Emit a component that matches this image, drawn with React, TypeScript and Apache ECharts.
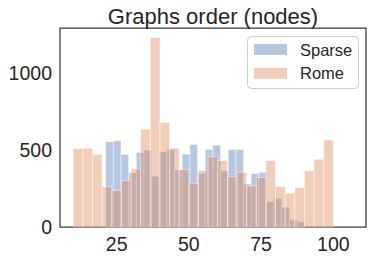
import React, { useEffect, useRef } from "react";
import * as echarts from "echarts";

// Histogram bins
const romeStart = 10;
const romeBinWidth = 90 / 27;
const romeCounts = [
  511, 511, 472, 262, 238, 301, 377, 636, 1232, 680, 512, 375, 284, 368,
  457, 432, 327, 355, 266, 322, 431, 262, 219, 256, 366, 440, 565,
];

const sparseStart = 21.2;
const sparseBinWidth = 2.65;
const sparseCounts = [
  554, 561, 472, 353, 485, 500, 330, 489, 505, 370, 474, 537, 348, 504, 532,
  365, 504, 504, 280, 348, 355, 165, 187, 129, 48, 33,
];

const xTicks = [25, 50, 75, 100];
const yTicks = [0, 500, 1000];
const seriesNames = ["Sparse", "Rome"];
const titleText = "Graphs order (nodes)";

const SPARSE_COLOR = "rgba(76,114,176,0.4)";
const ROME_COLOR = "rgba(221,132,82,0.4)";
const TEXT_COLOR = "#262626";
const FONT = "Liberation Sans, Arial, sans-serif";
const seriesColors = [SPARSE_COLOR, ROME_COLOR];

function toBins(start: number, width: number, counts: number[]) {
  return counts.map((c, i) => [start + i * width, start + (i + 1) * width, c]);
}

function histSeries(name: string, color: string, data: number[][]) {
  return {
    name,
    type: "custom",
    itemStyle: { color },
    encode: { x: [0, 1], y: 2 },
    data,
    renderItem: (_params: any, api: any) => {
      const p0 = api.coord([api.value(0), api.value(2)]);
      const p1 = api.coord([api.value(1), 0]);
      return {
        type: "rect",
        shape: { x: p0[0], y: p0[1], width: p1[0] - p0[0], height: p1[1] - p0[1] },
        style: { fill: color, stroke: "rgba(255,255,255,0.45)", lineWidth: 1 },
      };
    },
  };
}

function legendGraphics() {
  const items: any[] = [
    {
      type: "rect",
      shape: { x: 247.5, y: 36.5, width: 111, height: 52, r: 4 },
      style: { fill: "rgba(255,255,255,0.8)", stroke: "#cccccc", lineWidth: 1 },
    },
  ];
  seriesNames.forEach((name, i) => {
    const cy = 49.5 + i * 23.8;
    items.push({
      type: "rect",
      shape: { x: 254, y: cy - 5.5, width: 33, height: 11 },
      style: { fill: seriesColors[i] },
    });
    items.push({
      type: "text",
      x: 300,
      y: cy,
      style: {
        text: name,
        font: `16.5px ${FONT}`,
        fill: TEXT_COLOR,
        textAlign: "left",
        textVerticalAlign: "middle",
      },
    });
  });
  return { type: "group", children: items };
}

export default function App() {
  const ref = useRef<HTMLDivElement>(null);
  useEffect(() => {
    document.body.style.margin = "0";
    if (!ref.current) return;
    const chart = echarts.init(ref.current, undefined, { renderer: "svg" });
    chart.setOption({
      animation: false,
      backgroundColor: "#ffffff",
      textStyle: { fontFamily: FONT },
      graphic: [
        {
          type: "text",
          x: 213,
          y: 16,
          style: {
            text: titleText,
            font: `22px ${FONT}`,
            fill: TEXT_COLOR,
            textAlign: "center",
            textVerticalAlign: "middle",
          },
        },
        legendGraphics(),
      ],
      grid: {
        left: 60,
        right: 8,
        top: 28,
        bottom: 34,
        show: true,
        borderColor: "#3a3a3a",
        borderWidth: 1.25,
        backgroundColor: "transparent",
      },
      xAxis: {
        type: "value",
        min: 5.4,
        max: 111.3,
        axisLine: { show: false },
        axisTick: { show: false },
        splitLine: { show: false },
        axisLabel: {
          customValues: xTicks,
          fontSize: 19.5,
          color: TEXT_COLOR,
          fontFamily: FONT,
          margin: 7,
          formatter: (v: number) => String(v),
        },
      },
      yAxis: {
        type: "value",
        min: 0,
        max: 1294,
        axisLine: { show: false },
        axisTick: { show: false },
        splitLine: { show: false },
        axisLabel: {
          customValues: yTicks,
          fontSize: 19.5,
          color: TEXT_COLOR,
          fontFamily: FONT,
          margin: 8,
          formatter: (v: number) => String(v),
        },
      },
      series: [
        histSeries(seriesNames[0], SPARSE_COLOR, toBins(sparseStart, sparseBinWidth, sparseCounts)),
        histSeries(seriesNames[1], ROME_COLOR, toBins(romeStart, romeBinWidth, romeCounts)),
      ],
    });
    return () => chart.dispose();
  }, []);
  return <div ref={ref} style={{ width: 374, height: 261 }} />;
}
